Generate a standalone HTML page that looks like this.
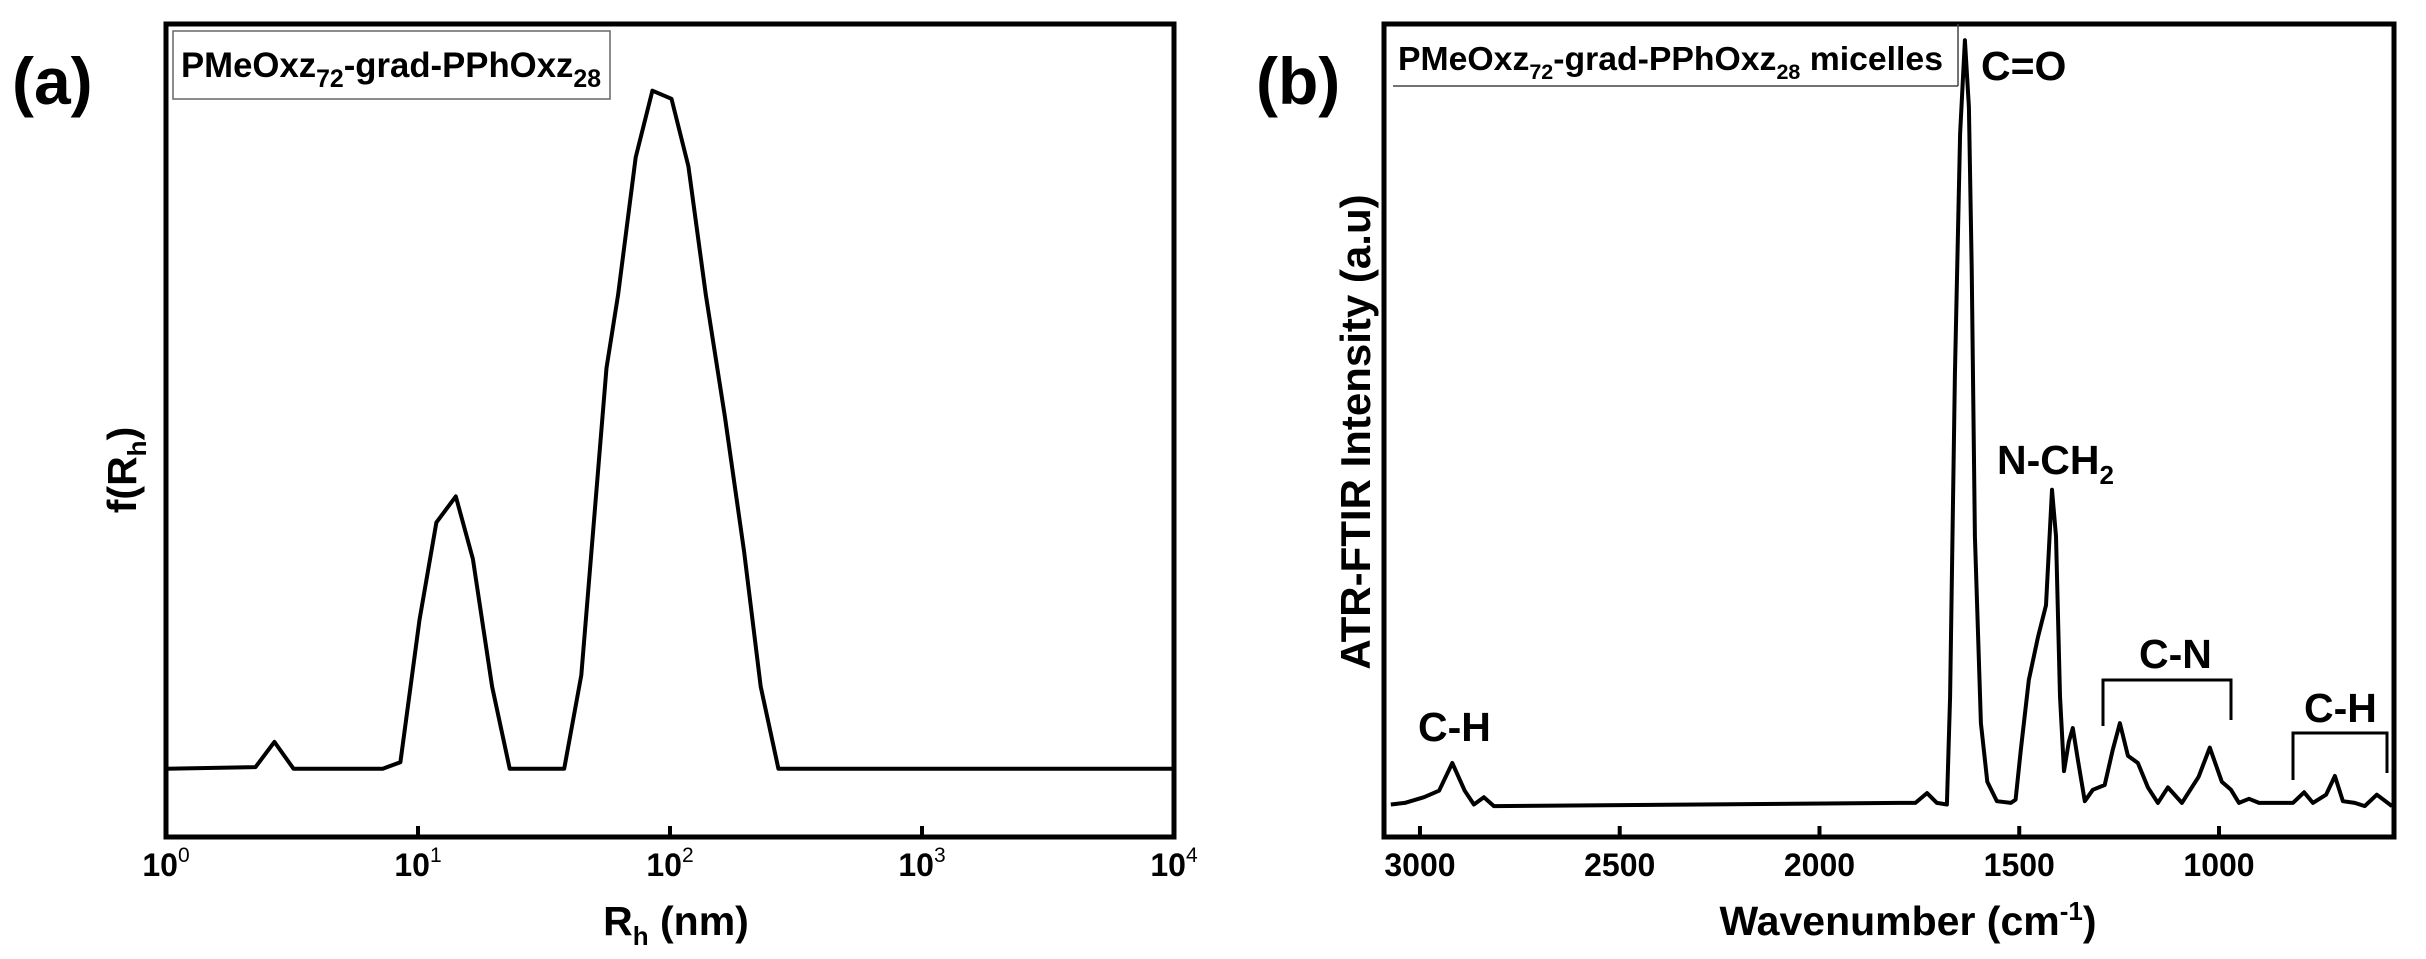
<!DOCTYPE html>
<html><head><meta charset="utf-8"><style>
html,body{margin:0;padding:0;background:#fff;}
svg{display:block;font-family:"Liberation Sans",Arial,sans-serif;font-weight:bold;}
</style></head><body>
<svg id="fig" width="2426" height="959" viewBox="0 0 2426 959" xmlns="http://www.w3.org/2000/svg">
<g id="pa"></g>
<g id="pb"></g>
</svg>
<script>
// Panel (a) data: log10(Rh) and f(Rh) (fraction of axis height)
const aLogR = [0,0.355,0.43,0.506,0.86,0.93,1.006,1.073,1.15,1.218,1.294,1.364,1.58,1.648,1.748,1.794,1.864,1.93,2.006,2.073,2.142,2.218,2.294,2.36,2.43,4];
const aF = [0.084,0.086,0.117,0.084,0.084,0.092,0.267,0.387,0.419,0.342,0.185,0.084,0.084,0.199,0.577,0.667,0.836,0.918,0.908,0.825,0.667,0.517,0.351,0.185,0.084,0.084];
const aTicks = [0,1,2,3,4];
// Panel (b) data: wavenumber and intensity
const bWn = [3073,3038,2990,2952,2919,2888,2865,2840,2815,1799,1760,1731,1706,1681,1673,1661,1648,1636,1626,1619,1611,1596,1580,1556,1521,1509,1496,1476,1453,1433,1418,1408,1398,1388,1376,1366,1353,1336,1316,1286,1266,1248,1228,1203,1178,1153,1128,1093,1051,1023,993,970,950,925,900,815,787,765,732,710,690,660,635,605,567];
const bI = [0.04,0.042,0.049,0.057,0.091,0.057,0.04,0.049,0.038,0.042,0.042,0.054,0.042,0.04,0.173,0.568,0.865,0.98,0.898,0.70,0.37,0.14,0.068,0.044,0.042,0.046,0.107,0.193,0.246,0.285,0.427,0.37,0.173,0.081,0.117,0.134,0.094,0.044,0.058,0.064,0.107,0.14,0.1,0.091,0.061,0.042,0.061,0.042,0.074,0.11,0.068,0.058,0.042,0.047,0.042,0.042,0.055,0.042,0.052,0.075,0.044,0.042,0.038,0.052,0.038];
const bTicks = [3000,2500,2000,1500,1000];

const NS="http://www.w3.org/2000/svg";
function mk(parent,tag,attrs,text){const e=document.createElementNS(NS,tag);for(const k in attrs)e.setAttribute(k,attrs[k]);if(text!==undefined)e.textContent=text;parent.appendChild(e);return e;}

// ---- Panel A ----
const pa=document.getElementById('pa');
const A={l:166,r:1174,t:24,b:837};
const axA=v=>A.l+(v-0)/(4-0)*(A.r-A.l);
const ayA=v=>A.b-v*(A.b-A.t);
let d='';aLogR.forEach((v,i)=>{d+=(i?'L':'M')+axA(v).toFixed(1)+','+ayA(aF[i]).toFixed(1);});
let la=mk(pa,'path',{d:d,fill:'none',stroke:'#000','stroke-width':4,'stroke-linejoin':'round'});


aTicks.forEach(t=>{
  let tk=mk(pa,'line',{x1:axA(t),x2:axA(t),y1:A.b,y2:A.b-11,stroke:'#000','stroke-width':4});
  
  
  let tx=mk(pa,'text',{x:axA(t),y:876,'font-size':32,'text-anchor':'middle'});
  
  
  mk(tx,'tspan',{},'10');mk(tx,'tspan',{dy:-14,'font-size':21,'font-weight':'normal'},String(t));
});
let fa=mk(pa,'rect',{x:A.l,y:A.t,width:A.r-A.l,height:A.b-A.t,fill:'none',stroke:'#000','stroke-width':5});


let lga=mk(pa,'rect',{x:173,y:31,width:437,height:68,fill:'#fff',stroke:'#666','stroke-width':1.5});


let lta=mk(pa,'text',{x:181,y:77,'font-size':35,textLength:420,lengthAdjust:'spacingAndGlyphs'});


mk(lta,'tspan',{},'PMeOxz');mk(lta,'tspan',{dy:10,'font-size':25},'72');mk(lta,'tspan',{dy:-10},'-grad-PPhOxz');mk(lta,'tspan',{dy:10,'font-size':25},'28');
let xta=mk(pa,'text',{x:676,y:935,'font-size':41,'text-anchor':'middle'});


mk(xta,'tspan',{},'R');mk(xta,'tspan',{dy:10,'font-size':26},'h');mk(xta,'tspan',{dy:-10},' (nm)');
let yta=mk(pa,'text',{x:0,y:0,'font-size':41,'text-anchor':'middle',transform:'translate(136,470) rotate(-90)'});


mk(yta,'tspan',{},'f(R');mk(yta,'tspan',{dy:10,'font-size':26},'h');mk(yta,'tspan',{dy:-10},')');
let pla=mk(pa,'text',{x:12,y:104,'font-size':66},'(a)');



// ---- Panel B ----
const pb=document.getElementById('pb');
const B={l:1384,r:2394,t:24,b:837};
const bMax=3090,bMin=562;
const axB=v=>B.l+(bMax-v)/(bMax-bMin)*(B.r-B.l);
const ayB=v=>B.b-v*(B.b-B.t);
d='';bWn.forEach((v,i)=>{d+=(i?'L':'M')+axB(v).toFixed(1)+','+ayB(bI[i]).toFixed(1);});
let lb=mk(pb,'path',{d:d,fill:'none',stroke:'#000','stroke-width':4,'stroke-linejoin':'round'});


bTicks.forEach(t=>{
  let tk=mk(pb,'line',{x1:axB(t),x2:axB(t),y1:B.b,y2:B.b-11,stroke:'#000','stroke-width':4});
  
  
  let tx=mk(pb,'text',{x:axB(t),y:876,'font-size':32,'text-anchor':'middle'},String(t));
  
  
});
let fb=mk(pb,'rect',{x:B.l,y:B.t,width:B.r-B.l,height:B.b-B.t,fill:'none',stroke:'#000','stroke-width':5});


let lgb=mk(pb,'line',{x1:1393,x2:1958,y1:86,y2:86,stroke:'#444','stroke-width':1.5});


let lgb2=mk(pb,'line',{x1:1958,x2:1958,y1:24,y2:86,stroke:'#444','stroke-width':1.5});


let ltb=mk(pb,'text',{x:1398,y:70,'font-size':33,textLength:545,lengthAdjust:'spacingAndGlyphs'});


mk(ltb,'tspan',{},'PMeOxz');mk(ltb,'tspan',{dy:9,'font-size':21},'72');mk(ltb,'tspan',{dy:-9},'-grad-PPhOxz');mk(ltb,'tspan',{dy:9,'font-size':21},'28');mk(ltb,'tspan',{dy:-9},' micelles');
function ann(x,y,t,n){let e=mk(pb,'text',{x:x,y:y,'font-size':41},t);return e;}
ann(1981,80,'C=O','label-c-o');
let nch=ann(1997,474,'N-CH','label-n-ch2');mk(nch,'tspan',{dy:10,'font-size':26},'2');
ann(2139,668,'C-N','label-c-n');
ann(2304,722,'C-H','label-c-h-right');
ann(1418,741,'C-H','label-c-h-left');
let br1=mk(pb,'path',{d:'M2103,726V680H2231V720',fill:'none',stroke:'#000','stroke-width':3});


let br2=mk(pb,'path',{d:'M2293,780V733H2387V773',fill:'none',stroke:'#000','stroke-width':3});


let xtb=mk(pb,'text',{x:1908,y:935,'font-size':41,'text-anchor':'middle'});


mk(xtb,'tspan',{},'Wavenumber (cm');mk(xtb,'tspan',{dy:-15,'font-size':26},'-1');mk(xtb,'tspan',{dy:15},')');
let ytb=mk(pb,'text',{x:0,y:0,'font-size':42,'text-anchor':'middle',transform:'translate(1370,432) rotate(-90)'},'ATR-FTIR Intensity (a.u)');


let plb=mk(pb,'text',{x:1256,y:104,'font-size':66},'(b)');


</script>
</body></html>
